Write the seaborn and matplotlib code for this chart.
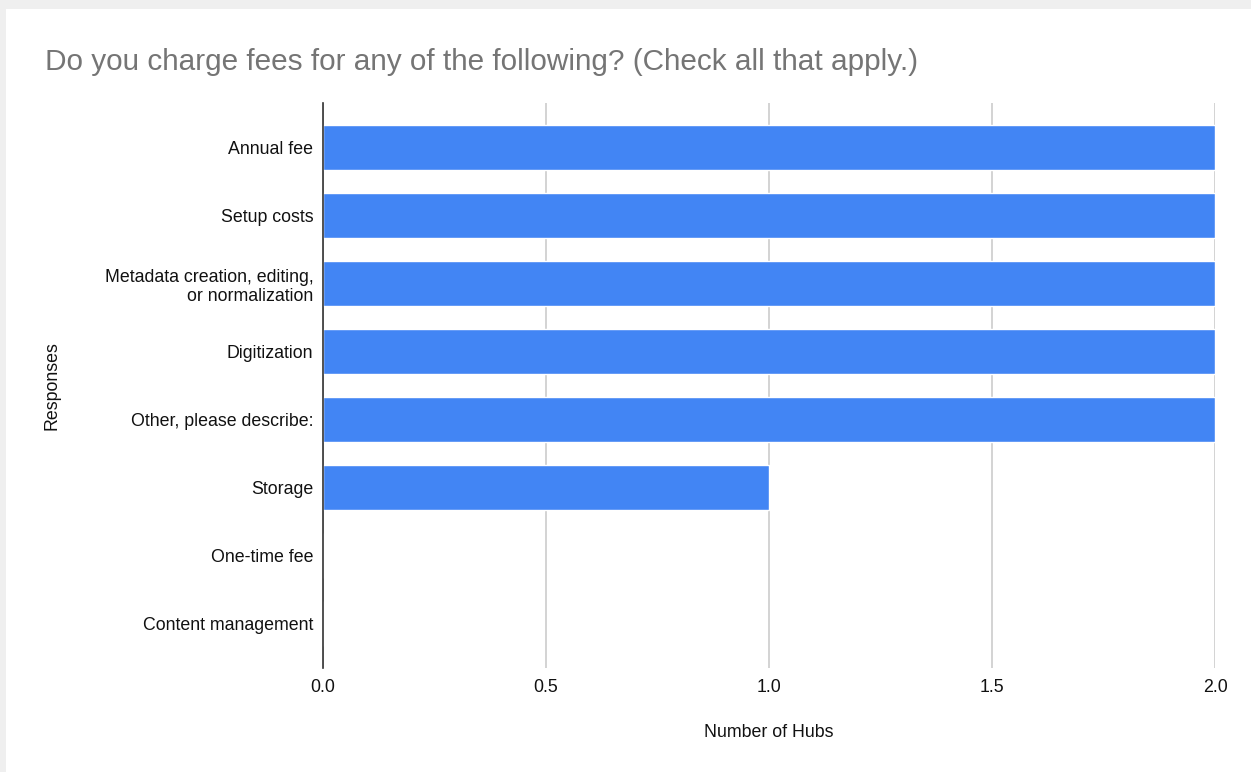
import matplotlib
matplotlib.use("Agg")
import matplotlib.pyplot as plt
import seaborn as sns
import pandas as pd

# Survey responses and hub counts
responses = [
    "Annual fee",
    "Setup costs",
    "Metadata creation, editing,\nor normalization",
    "Digitization",
    "Other, please describe:",
    "Storage",
    "One-time fee",
    "Content management",
]
hub_counts = [2, 2, 2, 2, 2, 1, 0, 0]
x_ticks = [0.0, 0.5, 1.0, 1.5, 2.0]

df = pd.DataFrame({"Responses": responses, "Number of Hubs": hub_counts})

sns.set_theme(style="white")
plt.rcParams["font.family"] = ["Liberation Sans", "DejaVu Sans"]

W, H = 1251, 772
fig = plt.figure(figsize=(W / 100, H / 100), dpi=100)
fig.patch.set_facecolor("#efefef")

# white card behind the chart
card = plt.Rectangle((6 / W, 0), 1 - 6 / W, 1 - 9 / H, transform=fig.transFigure,
                     facecolor="white", edgecolor="none", zorder=-10)
fig.patches.append(card)

left, right = 323 / W, 1215 / W
top, bottom = 1 - 103 / H, 1 - 668 / H
ax = fig.add_axes([left, bottom, right - left, top - bottom])
ax.set_zorder(2)
ax.set_facecolor("none")

sns.barplot(data=df, x="Number of Hubs", y="Responses", color="#4285f4",
            saturation=1, width=0.66, ax=ax, zorder=3)

ax.set_xlim(0, 2.0)
ax.set_ylim(7.66, -0.66)
ax.set_xticks(x_ticks)
ax.set_xticklabels([f"{t:.1f}" for t in x_ticks])
ax.xaxis.grid(True, color="#cccccc", linewidth=1.2, zorder=0)
ax.yaxis.grid(False)
ax.set_axisbelow(True)

for side in ["top", "right", "bottom"]:
    ax.spines[side].set_visible(False)
ax.spines["left"].set_color("#333333")
ax.spines["left"].set_linewidth(1.2)
ax.spines["left"].set_zorder(5)

ax.tick_params(axis="both", length=0, labelsize=12.8, colors="#111111")
ax.tick_params(axis="x", pad=8)
ax.tick_params(axis="y", pad=7)

ax.set_xlabel("Number of Hubs", fontsize=12.8, color="#111111", labelpad=20)
ax.set_ylabel("Responses", fontsize=12.8, color="#111111", labelpad=0)
ax.yaxis.set_label_coords((61 - 323) / (1215 - 323), 0.5)

fig.text(45 / W, 1 - 62 / H, "Do you charge fees for any of the following? (Check all that apply.)",
         fontsize=21.4, color="#757575", ha="left", va="center")

fig.savefig("out.png", dpi=100, facecolor=fig.get_facecolor())
